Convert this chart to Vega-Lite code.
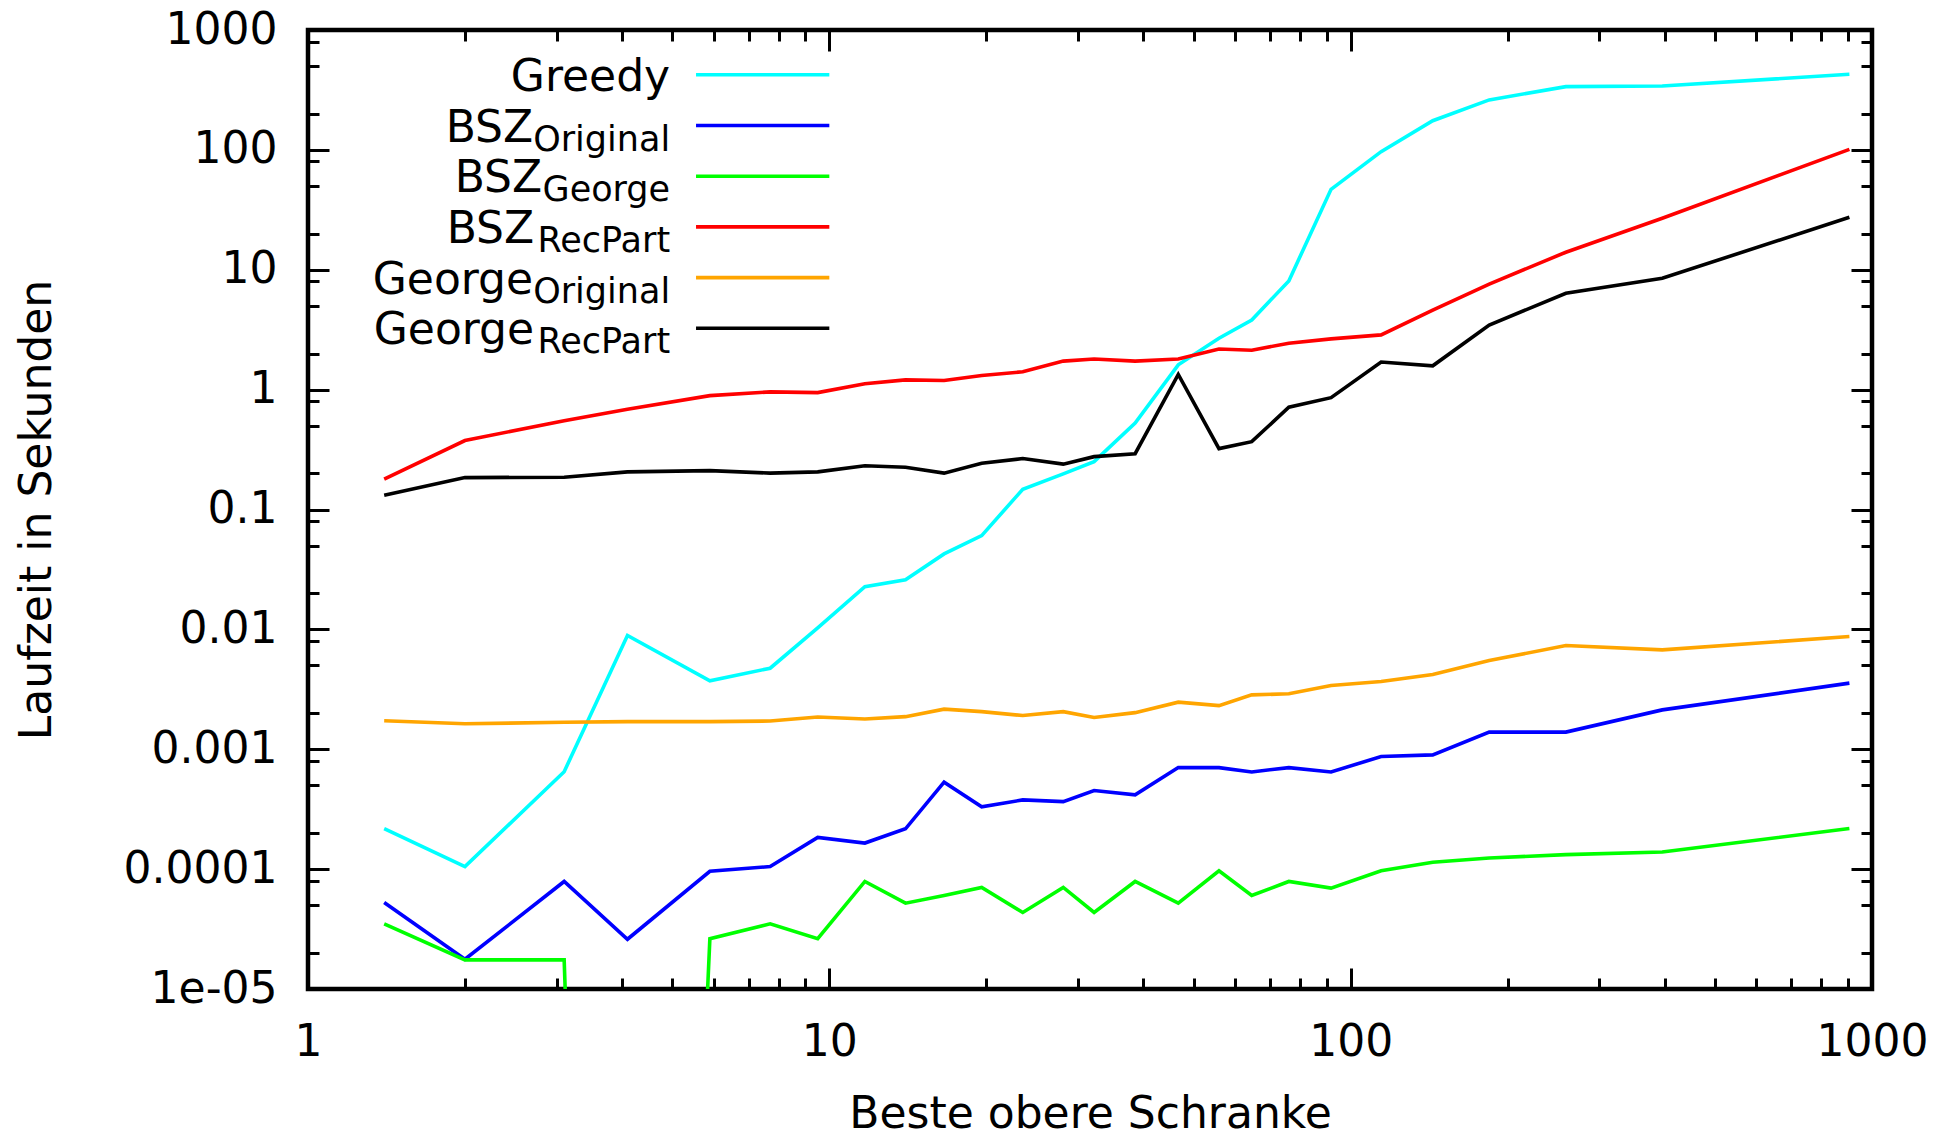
{
  "$schema": "https://vega.github.io/schema/vega-lite/v6.json",
  "width": 1564,
  "height": 959,
  "autosize": {"type": "none"},
  "padding": {"left": 308, "top": 30, "right": 84, "bottom": 148},
  "background": "white",
  "config": {
    "view": {"stroke": "black", "strokeWidth": 4.5},
    "font": "DejaVu Sans",
    "axis": {
      "domain": false, "grid": false, "tickColor": "black", "tickWidth": 3,
      "labelFont": "DejaVu Sans", "labelFontSize": 44, "labelColor": "black",
      "titleFont": "DejaVu Sans", "titleFontSize": 44, "titleFontWeight": "normal", "titleColor": "black",
      "labelFlush": false, "labelOverlap": false, "labelBound": false
    }
  },
  "datasets": {
    "runs": [
      {"s":"Greedy","x":1.4,"t":0.000218},{"s":"Greedy","x":2.0,"t":0.000105},{"s":"Greedy","x":3.1,"t":0.00065},{"s":"Greedy","x":4.1,"t":0.0089},{"s":"Greedy","x":5.9,"t":0.00372},{"s":"Greedy","x":7.7,"t":0.00474},{"s":"Greedy","x":9.5,"t":0.0103},{"s":"Greedy","x":11.7,"t":0.0227},{"s":"Greedy","x":14.0,"t":0.0259},{"s":"Greedy","x":16.6,"t":0.0426},{"s":"Greedy","x":19.6,"t":0.0606},{"s":"Greedy","x":23.5,"t":0.1475},{"s":"Greedy","x":28.1,"t":0.198},{"s":"Greedy","x":32.2,"t":0.251},{"s":"Greedy","x":38.6,"t":0.525},{"s":"Greedy","x":46.7,"t":1.61},{"s":"Greedy","x":55.9,"t":2.68},{"s":"Greedy","x":64.6,"t":3.81},{"s":"Greedy","x":76.1,"t":8.07},{"s":"Greedy","x":91.7,"t":46.9},{"s":"Greedy","x":114.4,"t":96.6},{"s":"Greedy","x":143.7,"t":175},{"s":"Greedy","x":184.4,"t":261},{"s":"Greedy","x":258.7,"t":337},{"s":"Greedy","x":396,"t":341},{"s":"Greedy","x":905,"t":427},
      {"s":"BSZ_Original","x":1.4,"t":0.0000527},{"s":"BSZ_Original","x":2.0,"t":0.0000177},{"s":"BSZ_Original","x":3.1,"t":0.0000789},{"s":"BSZ_Original","x":4.1,"t":0.000026},{"s":"BSZ_Original","x":5.9,"t":0.000096},{"s":"BSZ_Original","x":7.7,"t":0.000105},{"s":"BSZ_Original","x":9.5,"t":0.000184},{"s":"BSZ_Original","x":11.7,"t":0.000165},{"s":"BSZ_Original","x":14.0,"t":0.000217},{"s":"BSZ_Original","x":16.6,"t":0.000531},{"s":"BSZ_Original","x":19.6,"t":0.000331},{"s":"BSZ_Original","x":23.5,"t":0.000378},{"s":"BSZ_Original","x":28.1,"t":0.000366},{"s":"BSZ_Original","x":32.2,"t":0.000453},{"s":"BSZ_Original","x":38.6,"t":0.000417},{"s":"BSZ_Original","x":46.7,"t":0.000703},{"s":"BSZ_Original","x":55.9,"t":0.000703},{"s":"BSZ_Original","x":64.6,"t":0.000647},{"s":"BSZ_Original","x":76.1,"t":0.000703},{"s":"BSZ_Original","x":91.7,"t":0.000647},{"s":"BSZ_Original","x":114.4,"t":0.000869},{"s":"BSZ_Original","x":143.7,"t":0.000897},{"s":"BSZ_Original","x":184.4,"t":0.00139},{"s":"BSZ_Original","x":258.7,"t":0.00139},{"s":"BSZ_Original","x":396,"t":0.00213},{"s":"BSZ_Original","x":905,"t":0.00356},
      {"s":"BSZ_George","x":1.4,"t":0.000035},{"s":"BSZ_George","x":2.0,"t":0.0000175},{"s":"BSZ_George","x":3.1,"t":0.0000175},{"s":"BSZ_George","x":4.1,"t":1e-20},{"s":"BSZ_George","x":5.9,"t":0.0000263},{"s":"BSZ_George","x":7.7,"t":0.000035},{"s":"BSZ_George","x":9.5,"t":0.0000263},{"s":"BSZ_George","x":11.7,"t":0.0000789},{"s":"BSZ_George","x":14.0,"t":0.000052},{"s":"BSZ_George","x":16.6,"t":0.0000603},{"s":"BSZ_George","x":19.6,"t":0.0000703},{"s":"BSZ_George","x":23.5,"t":0.0000435},{"s":"BSZ_George","x":28.1,"t":0.0000703},{"s":"BSZ_George","x":32.2,"t":0.0000435},{"s":"BSZ_George","x":38.6,"t":0.0000789},{"s":"BSZ_George","x":46.7,"t":0.000052},{"s":"BSZ_George","x":55.9,"t":0.0000968},{"s":"BSZ_George","x":64.6,"t":0.0000603},{"s":"BSZ_George","x":76.1,"t":0.0000789},{"s":"BSZ_George","x":91.7,"t":0.0000694},{"s":"BSZ_George","x":114.4,"t":0.0000968},{"s":"BSZ_George","x":143.7,"t":0.000114},{"s":"BSZ_George","x":184.4,"t":0.000124},{"s":"BSZ_George","x":258.7,"t":0.000132},{"s":"BSZ_George","x":396,"t":0.000139},{"s":"BSZ_George","x":905,"t":0.000218},
      {"s":"BSZ_RecPart","x":1.4,"t":0.179},{"s":"BSZ_RecPart","x":2.0,"t":0.376},{"s":"BSZ_RecPart","x":3.1,"t":0.551},{"s":"BSZ_RecPart","x":4.1,"t":0.686},{"s":"BSZ_RecPart","x":5.9,"t":0.891},{"s":"BSZ_RecPart","x":7.7,"t":0.957},{"s":"BSZ_RecPart","x":9.5,"t":0.944},{"s":"BSZ_RecPart","x":11.7,"t":1.12},{"s":"BSZ_RecPart","x":14.0,"t":1.205},{"s":"BSZ_RecPart","x":16.6,"t":1.19},{"s":"BSZ_RecPart","x":19.6,"t":1.31},{"s":"BSZ_RecPart","x":23.5,"t":1.41},{"s":"BSZ_RecPart","x":28.1,"t":1.73},{"s":"BSZ_RecPart","x":32.2,"t":1.8},{"s":"BSZ_RecPart","x":38.6,"t":1.73},{"s":"BSZ_RecPart","x":46.7,"t":1.8},{"s":"BSZ_RecPart","x":55.9,"t":2.18},{"s":"BSZ_RecPart","x":64.6,"t":2.13},{"s":"BSZ_RecPart","x":76.1,"t":2.44},{"s":"BSZ_RecPart","x":91.7,"t":2.65},{"s":"BSZ_RecPart","x":114.4,"t":2.86},{"s":"BSZ_RecPart","x":143.7,"t":4.6},{"s":"BSZ_RecPart","x":184.4,"t":7.6},{"s":"BSZ_RecPart","x":258.7,"t":14.0},{"s":"BSZ_RecPart","x":396,"t":26.9},{"s":"BSZ_RecPart","x":905,"t":101},
      {"s":"George_Original","x":1.4,"t":0.00173},{"s":"George_Original","x":2.0,"t":0.00163},{"s":"George_Original","x":3.1,"t":0.00168},{"s":"George_Original","x":4.1,"t":0.0017},{"s":"George_Original","x":5.9,"t":0.0017},{"s":"George_Original","x":7.7,"t":0.00172},{"s":"George_Original","x":9.5,"t":0.00186},{"s":"George_Original","x":11.7,"t":0.00179},{"s":"George_Original","x":14.0,"t":0.00187},{"s":"George_Original","x":16.6,"t":0.00216},{"s":"George_Original","x":19.6,"t":0.00206},{"s":"George_Original","x":23.5,"t":0.00191},{"s":"George_Original","x":28.1,"t":0.00206},{"s":"George_Original","x":32.2,"t":0.00184},{"s":"George_Original","x":38.6,"t":0.00202},{"s":"George_Original","x":46.7,"t":0.00247},{"s":"George_Original","x":55.9,"t":0.00231},{"s":"George_Original","x":64.6,"t":0.00284},{"s":"George_Original","x":76.1,"t":0.0029},{"s":"George_Original","x":91.7,"t":0.0034},{"s":"George_Original","x":114.4,"t":0.00367},{"s":"George_Original","x":143.7,"t":0.00421},{"s":"George_Original","x":184.4,"t":0.0055},{"s":"George_Original","x":258.7,"t":0.00733},{"s":"George_Original","x":396,"t":0.00675},{"s":"George_Original","x":905,"t":0.00871},
      {"s":"George_RecPart","x":1.4,"t":0.1316},{"s":"George_RecPart","x":2.0,"t":0.1845},{"s":"George_RecPart","x":3.1,"t":0.186},{"s":"George_RecPart","x":4.1,"t":0.206},{"s":"George_RecPart","x":5.9,"t":0.211},{"s":"George_RecPart","x":7.7,"t":0.201},{"s":"George_RecPart","x":9.5,"t":0.206},{"s":"George_RecPart","x":11.7,"t":0.232},{"s":"George_RecPart","x":14.0,"t":0.225},{"s":"George_RecPart","x":16.6,"t":0.201},{"s":"George_RecPart","x":19.6,"t":0.243},{"s":"George_RecPart","x":23.5,"t":0.266},{"s":"George_RecPart","x":28.1,"t":0.239},{"s":"George_RecPart","x":32.2,"t":0.276},{"s":"George_RecPart","x":38.6,"t":0.292},{"s":"George_RecPart","x":46.7,"t":1.34},{"s":"George_RecPart","x":55.9,"t":0.322},{"s":"George_RecPart","x":64.6,"t":0.368},{"s":"George_RecPart","x":76.1,"t":0.713},{"s":"George_RecPart","x":91.7,"t":0.857},{"s":"George_RecPart","x":114.4,"t":1.7},{"s":"George_RecPart","x":143.7,"t":1.58},{"s":"George_RecPart","x":184.4,"t":3.46},{"s":"George_RecPart","x":258.7,"t":6.37},{"s":"George_RecPart","x":396,"t":8.49},{"s":"George_RecPart","x":905,"t":27.4}
    ],
    "legend": [
      {"s":"Greedy","base":"Greedy","sub":""},
      {"s":"BSZ_Original","base":"BSZ","sub":"Original"},
      {"s":"BSZ_George","base":"BSZ","sub":"George"},
      {"s":"BSZ_RecPart","base":"BSZ","sub":"RecPart"},
      {"s":"George_Original","base":"George","sub":"Original"},
      {"s":"George_RecPart","base":"George","sub":"RecPart"}
    ]
  },
  "layer": [
    {
      "data": {"name": "runs"},
      "layer": [
        {
          "mark": {"type": "line", "strokeWidth": 3.6, "clip": true},
          "encoding": {
            "x": {
              "field": "x", "type": "quantitative",
              "scale": {"type": "log", "domain": [1, 1000], "nice": false},
              "axis": {
                "orient": "bottom",
                "values": [1,2,3,4,5,6,7,8,9,10,20,30,40,50,60,70,80,90,100,200,300,400,500,600,700,800,900,1000],
                "labelExpr": "abs(log(datum.value)/LN10 - round(log(datum.value)/LN10)) < 1e-6 ? format(datum.value, 'd') : ''",
                "tickSize": {"condition": {"test": "abs(log(datum.value)/LN10 - round(log(datum.value)/LN10)) < 1e-6", "value": -21}, "value": -11},
                "labelPadding": 52,
                "title": "Beste obere Schranke",
                "titleY": 138,
                "titleBaseline": "alphabetic"
              }
            },
            "y": {
              "field": "t", "type": "quantitative",
              "scale": {"type": "log", "domain": [0.00001, 1000], "nice": false},
              "axis": {
                "orient": "left",
                "values": [0.00001,0.00002,0.00005,0.00008,0.0001,0.0002,0.0005,0.0008,0.001,0.002,0.005,0.008,0.01,0.02,0.05,0.08,0.1,0.2,0.5,0.8,1,2,5,8,10,20,50,80,100,200,500,800,1000],
                "labelExpr": "abs(log(datum.value)/LN10 - round(log(datum.value)/LN10)) < 1e-6 ? (datum.value < 0.00002 ? '1e-05' : format(datum.value, '~f')) : ''",
                "tickSize": {"condition": {"test": "abs(log(datum.value)/LN10 - round(log(datum.value)/LN10)) < 1e-6", "value": -21}, "value": -11},
                "labelPadding": 52,
                "title": "Laufzeit in Sekunden",
                "titleX": -258,
                "titleY": 479.5,
                "titleAngle": 270,
                "titleBaseline": "alphabetic",
                "titleAlign": "center"
              }
            },
            "color": {
              "field": "s", "type": "nominal",
              "scale": {
                "domain": ["Greedy","BSZ_Original","BSZ_George","BSZ_RecPart","George_Original","George_RecPart"],
                "range": ["#00ffff","#0000ff","#00ff00","#ff0000","#ffa500","#000000"]
              },
              "legend": null
            }
          }
        },
        {
          "mark": {"type": "point", "opacity": 0},
          "encoding": {
            "x": {
              "field": "x", "type": "quantitative",
              "axis": {
                "orient": "top",
                "values": [1,2,3,4,5,6,7,8,9,10,20,30,40,50,60,70,80,90,100,200,300,400,500,600,700,800,900,1000],
                "labels": false,
                "title": null,
                "tickSize": {"condition": {"test": "abs(log(datum.value)/LN10 - round(log(datum.value)/LN10)) < 1e-6", "value": -21}, "value": -11}
              }
            },
            "y": {
              "field": "t", "type": "quantitative",
              "axis": {
                "orient": "right",
                "values": [0.00001,0.00002,0.00005,0.00008,0.0001,0.0002,0.0005,0.0008,0.001,0.002,0.005,0.008,0.01,0.02,0.05,0.08,0.1,0.2,0.5,0.8,1,2,5,8,10,20,50,80,100,200,500,800,1000],
                "labels": false,
                "title": null,
                "tickSize": {"condition": {"test": "abs(log(datum.value)/LN10 - round(log(datum.value)/LN10)) < 1e-6", "value": -21}, "value": -11}
              }
            }
          }
        }
      ],
      "resolve": {"axis": {"x": "independent", "y": "independent"}}
    },
    {
      "data": {"name": "legend"},
      "layer": [
        {
          "mark": {"type": "rule", "strokeWidth": 3.6},
          "encoding": {
            "x": {"datum": 5.55, "type": "quantitative", "axis": null},
            "x2": {"datum": 10},
            "y": {"field": "s", "type": "nominal", "scale": {"type": "point", "domain": ["Greedy","BSZ_Original","BSZ_George","BSZ_RecPart","George_Original","George_RecPart"], "range": [44.8, 298.3], "padding": 0}, "axis": null},
            "color": {"field": "s", "type": "nominal", "legend": null}
          }
        },
        {
          "transform": [{"filter": "datum.sub == ''"}],
          "mark": {"type": "text", "align": "right", "baseline": "alphabetic", "dy": 16, "fontSize": 44, "font": "DejaVu Sans", "color": "black"},
          "encoding": {
            "x": {"datum": 4.95, "type": "quantitative", "axis": null},
            "y": {"field": "s", "type": "nominal", "axis": null},
            "text": {"field": "base"}
          }
        },
        {
          "transform": [{"filter": "datum.sub == 'Original'"}],
          "mark": {"type": "text", "align": "right", "baseline": "alphabetic", "dy": 16, "dx": -137, "fontSize": 44, "font": "DejaVu Sans", "color": "black"},
          "encoding": {
            "x": {"datum": 4.95, "type": "quantitative", "axis": null},
            "y": {"field": "s", "type": "nominal", "axis": null},
            "text": {"field": "base"}
          }
        },
        {
          "transform": [{"filter": "datum.sub == 'George'"}],
          "mark": {"type": "text", "align": "right", "baseline": "alphabetic", "dy": 16, "dx": -128, "fontSize": 44, "font": "DejaVu Sans", "color": "black"},
          "encoding": {
            "x": {"datum": 4.95, "type": "quantitative", "axis": null},
            "y": {"field": "s", "type": "nominal", "axis": null},
            "text": {"field": "base"}
          }
        },
        {
          "transform": [{"filter": "datum.sub == 'RecPart'"}],
          "mark": {"type": "text", "align": "right", "baseline": "alphabetic", "dy": 16, "dx": -136, "fontSize": 44, "font": "DejaVu Sans", "color": "black"},
          "encoding": {
            "x": {"datum": 4.95, "type": "quantitative", "axis": null},
            "y": {"field": "s", "type": "nominal", "axis": null},
            "text": {"field": "base"}
          }
        },
        {
          "transform": [{"filter": "datum.sub != ''"}],
          "mark": {"type": "text", "align": "right", "baseline": "alphabetic", "dy": 25, "fontSize": 35, "font": "DejaVu Sans", "color": "black"},
          "encoding": {
            "x": {"datum": 4.95, "type": "quantitative", "axis": null},
            "y": {"field": "s", "type": "nominal", "axis": null},
            "text": {"field": "sub"}
          }
        }
      ]
    }
  ],
  "resolve": {"scale": {"y": "independent"}, "axis": {"x": "independent", "y": "independent"}}
}
